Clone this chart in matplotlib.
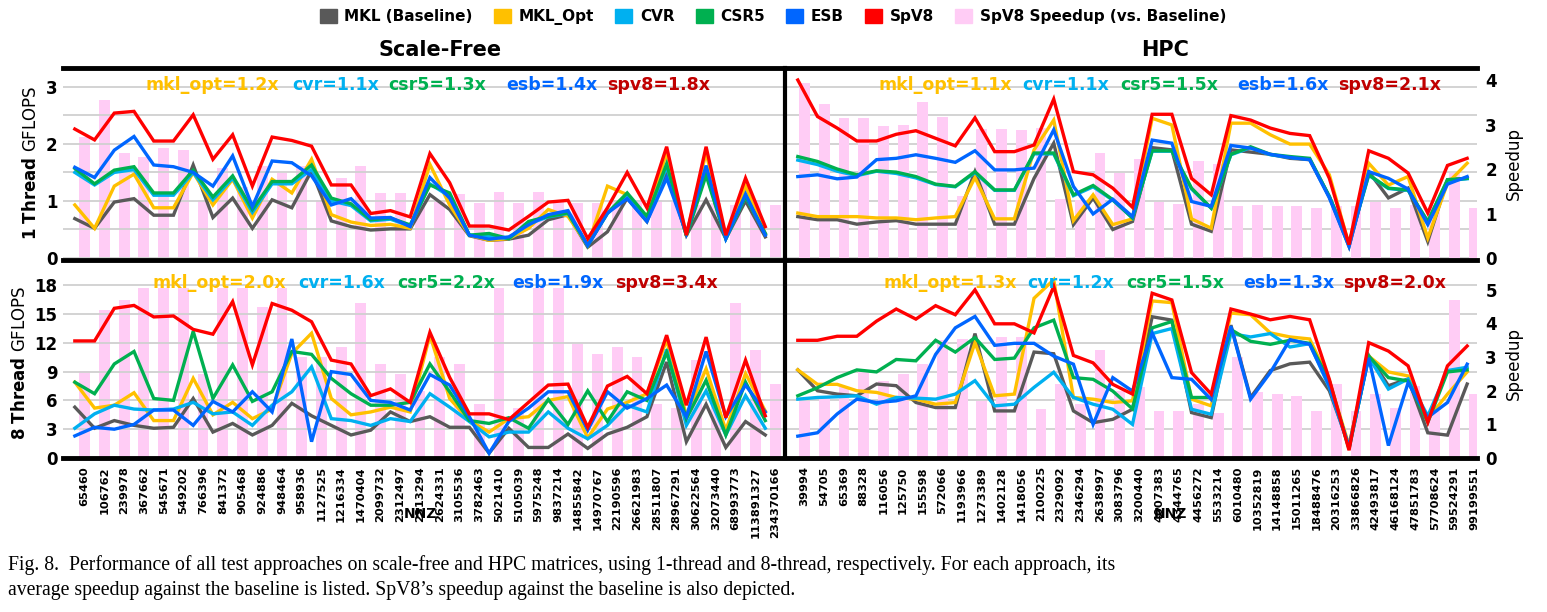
import numpy as np
import matplotlib
matplotlib.use('Agg')
import matplotlib.pyplot as plt
from matplotlib.patches import Patch

plt.rcParams['font.family'] = ['DejaVu Sans']

# ---- data ----
nnz_sf = ['65460', '106762', '239978', '367662', '545671', '549202', '766396', '841372', '905468',
          '924886', '948464', '958936', '1127525', '1216334', '1470404', '2099732', '2312497',
          '2313294', '2624331', '3105536', '3782463', '5021410', '5105039', '5975248', '9837214',
          '14855842', '14970767', '22190596', '26621983', '28511807', '28967291', '30622564',
          '32073440', '68993773', '113891327', '234370166']
nnz_hpc = ['39994', '54705', '65369', '88328', '116056', '125750', '155598', '572066', '1193966',
           '1273389', '1402128', '1418056', '2100225', '2329092', '2346294', '2638997', '3083796',
           '3200440', '4007383', '4344765', '4456272', '5533214', '6010480', '10352819', '14148858',
           '15011265', '18488476', '20316253', '33866826', '42493817', '46168124', '47851783',
           '57708624', '59524291', '99199551']

# scale-free, 1 thread (GFLOPS)
sf1_mkl = [0.69, 0.52, 0.98, 1.04, 0.75, 0.75, 1.63, 0.71, 1.05, 0.52, 1.02, 0.88, 1.53, 0.65, 0.55, 0.49, 0.51, 0.51,
           1.11, 0.85, 0.39, 0.31, 0.33, 0.40, 0.67, 0.76, 0.19, 0.46, 1.05, 0.64, 1.53, 0.40, 1.02, 0.34, 1.00, 0.37]
sf1_opt = [0.93, 0.52, 1.26, 1.47, 0.88, 0.88, 1.50, 0.93, 1.38, 0.70, 1.38, 1.14, 1.73, 0.76, 0.63, 0.57, 0.59, 0.52,
           1.64, 0.93, 0.40, 0.31, 0.34, 0.52, 0.85, 0.73, 0.22, 1.26, 1.11, 0.70, 1.85, 0.40, 1.85, 0.34, 1.26, 0.43]
sf1_cvr = [1.50, 1.28, 1.50, 1.55, 1.10, 1.10, 1.50, 1.02, 1.40, 0.80, 1.30, 1.30, 1.55, 1.00, 0.92, 0.65, 0.68, 0.56,
           1.30, 1.08, 0.40, 0.38, 0.34, 0.60, 0.72, 0.78, 0.22, 0.78, 1.10, 0.68, 1.60, 0.40, 1.50, 0.34, 1.08, 0.42]
sf1_csr5 = [1.57, 1.30, 1.54, 1.60, 1.14, 1.14, 1.54, 1.07, 1.44, 0.85, 1.34, 1.34, 1.63, 1.05, 0.95, 0.67, 0.70, 0.58,
            1.28, 1.14, 0.40, 0.43, 0.34, 0.64, 0.73, 0.79, 0.22, 0.79, 1.14, 0.73, 1.65, 0.39, 1.45, 0.34, 1.08, 0.43]
sf1_esb = [1.59, 1.41, 1.89, 2.13, 1.63, 1.60, 1.50, 1.26, 1.79, 0.90, 1.70, 1.67, 1.44, 0.93, 1.04, 0.70, 0.71, 0.55,
           1.41, 1.05, 0.40, 0.33, 0.37, 0.58, 0.76, 0.83, 0.22, 0.79, 1.04, 0.64, 1.40, 0.43, 1.62, 0.34, 1.12, 0.40]
sf1_spv8 = [2.26, 2.07, 2.54, 2.57, 2.05, 2.05, 2.51, 1.73, 2.16, 1.26, 2.12, 2.06, 1.96, 1.28, 1.28, 0.78, 0.83, 0.72,
            1.83, 1.32, 0.56, 0.56, 0.49, 0.73, 0.98, 1.01, 0.34, 0.88, 1.50, 0.88, 1.95, 0.40, 1.95, 0.40, 1.40, 0.55]
sf1_speedup = [2.73, 3.56, 2.36, 2.28, 2.47, 2.43, 1.30, 2.02, 1.60, 2.06, 1.91, 2.06, 1.30, 1.80, 2.06, 1.46, 1.46, 1.24,
               1.25, 1.44, 1.24, 1.49, 1.24, 1.49, 1.31, 1.24, 1.24, 1.30, 1.30, 1.30, 1.29, 1.20, 1.24, 1.20, 1.30, 1.20]

# HPC, 1 thread
hpc1_mkl = [0.93, 0.86, 0.86, 0.76, 0.81, 0.84, 0.76, 0.76, 0.76, 1.94, 0.76, 0.76, 1.79, 2.58, 0.75, 1.35, 0.64, 0.82,
            2.48, 2.43, 0.76, 0.60, 2.43, 2.38, 2.33, 2.24, 2.21, 1.38, 0.26, 1.94, 1.35, 1.57, 0.37, 1.76, 1.79]
hpc1_opt = [1.01, 0.93, 0.93, 0.93, 0.90, 0.90, 0.86, 0.90, 0.93, 1.81, 0.88, 0.88, 2.43, 3.10, 0.84, 1.42, 0.75, 0.88,
            3.14, 2.99, 0.88, 0.67, 3.03, 3.03, 2.77, 2.56, 2.56, 1.87, 0.30, 2.13, 1.64, 1.83, 0.45, 1.68, 2.13]
hpc1_cvr = [2.20, 2.10, 1.95, 1.85, 1.95, 1.90, 1.80, 1.65, 1.60, 1.92, 1.52, 1.52, 2.34, 2.34, 1.40, 1.60, 1.30, 0.90,
            2.40, 2.40, 1.55, 1.12, 2.32, 2.48, 2.32, 2.26, 2.22, 1.38, 0.32, 1.86, 1.56, 1.52, 0.82, 1.74, 1.78]
hpc1_csr5 = [2.28, 2.17, 2.00, 1.87, 1.96, 1.93, 1.83, 1.66, 1.61, 1.94, 1.53, 1.53, 2.36, 2.36, 1.42, 1.63, 1.31, 0.90,
             2.41, 2.41, 1.57, 1.12, 2.33, 2.50, 2.33, 2.28, 2.24, 1.38, 0.34, 1.87, 1.57, 1.53, 0.82, 1.76, 1.79]
hpc1_esb = [1.83, 1.87, 1.78, 1.82, 2.21, 2.24, 2.32, 2.24, 2.15, 2.41, 1.98, 1.98, 2.02, 2.88, 1.61, 0.99, 1.32, 0.93,
            2.65, 2.58, 1.27, 1.16, 2.53, 2.47, 2.33, 2.26, 2.21, 1.35, 0.26, 1.94, 1.79, 1.55, 0.75, 1.66, 1.83]
hpc1_spv8 = [4.00, 3.18, 2.92, 2.63, 2.63, 2.78, 2.86, 2.69, 2.52, 3.15, 2.39, 2.39, 2.54, 3.57, 1.94, 1.87, 1.57, 1.14,
             3.23, 3.23, 1.79, 1.42, 3.20, 3.10, 2.92, 2.80, 2.75, 1.79, 0.30, 2.41, 2.24, 1.91, 1.01, 2.08, 2.24]
hpc1_speedup = [3.93, 3.45, 3.14, 3.14, 2.97, 3.00, 3.51, 3.18, 1.40, 2.90, 2.90, 2.88, 2.93, 1.33, 1.31, 2.36, 1.90, 2.23,
                1.26, 1.21, 2.17, 2.12, 1.16, 1.20, 1.16, 1.16, 1.12, 1.16, 1.16, 1.26, 1.12, 1.20, 1.20, 1.90, 1.12]

# scale-free, 8 threads
sf8_mkl = [5.3, 3.1, 3.9, 3.4, 3.1, 3.2, 6.2, 2.7, 3.6, 2.4, 3.4, 5.7, 4.4, 3.4, 2.4, 2.9, 4.8, 3.8,
           4.3, 3.2, 3.2, 0.5, 3.1, 1.1, 1.1, 2.5, 1.0, 2.5, 3.2, 4.3, 10.0, 1.7, 5.6, 1.1, 3.8, 2.4]
sf8_opt = [7.9, 5.2, 5.5, 6.8, 3.9, 3.9, 8.3, 4.5, 5.8, 4.1, 5.1, 10.9, 13.0, 6.2, 4.5, 4.8, 5.3, 4.8,
           12.8, 6.2, 3.9, 2.7, 4.1, 4.3, 6.0, 6.4, 2.1, 5.1, 5.8, 6.7, 12.3, 4.4, 9.3, 2.9, 8.8, 4.9]
sf8_cvr = [3.1, 4.6, 5.5, 5.1, 5.0, 5.1, 5.8, 4.6, 4.8, 3.4, 5.5, 6.9, 9.5, 4.1, 3.9, 3.4, 4.1, 3.8,
           6.7, 5.3, 3.8, 2.2, 2.7, 2.7, 4.8, 3.1, 2.0, 3.4, 5.5, 4.8, 11.3, 3.4, 7.0, 2.4, 6.5, 3.1]
sf8_csr5 = [7.9, 6.7, 9.8, 11.1, 6.2, 6.0, 13.2, 6.2, 9.7, 5.9, 6.9, 11.1, 10.8, 8.3, 6.7, 5.5, 5.5, 5.8,
            9.8, 6.9, 3.9, 3.6, 4.2, 3.1, 6.1, 3.5, 7.0, 3.8, 6.9, 6.0, 11.0, 4.1, 8.1, 2.4, 7.9, 3.9]
sf8_esb = [2.3, 3.2, 3.0, 3.5, 5.0, 5.0, 3.4, 5.9, 4.8, 6.9, 4.8, 12.4, 1.7, 9.0, 8.7, 6.0, 5.8, 5.0,
           8.7, 7.6, 4.3, 0.5, 3.8, 5.2, 6.9, 6.9, 2.9, 6.9, 5.2, 6.2, 7.6, 4.3, 11.1, 4.3, 7.6, 4.8]
sf8_spv8 = [12.2, 12.2, 15.6, 15.9, 14.7, 14.8, 13.4, 12.9, 16.3, 9.7, 16.1, 15.4, 14.2, 10.2, 9.8, 6.5, 7.2, 5.8,
            13.1, 8.4, 4.6, 4.6, 4.0, 5.8, 7.6, 7.7, 3.2, 7.5, 8.5, 6.7, 12.8, 5.5, 12.6, 4.2, 10.2, 4.4]
sf8_speedup = [2.6, 4.4, 4.7, 5.05, 5.05, 5.05, 2.5, 5.05, 5.05, 4.5, 5.05, 3.0, 3.0, 3.3, 4.6, 2.8, 2.5, 2.0,
               3.0, 2.8, 1.6, 5.05, 1.5, 5.05, 5.05, 3.4, 3.1, 3.3, 3.0, 1.6, 1.5, 2.9, 1.7, 4.6, 3.2, 2.2]

# HPC, 8 threads
hpc8_mkl = [2.62, 2.0, 1.9, 1.85, 2.2, 2.15, 1.65, 1.5, 1.5, 3.7, 1.4, 1.4, 3.15, 3.1, 1.4, 1.05, 1.15, 1.45,
            4.2, 4.1, 1.35, 1.2, 3.95, 1.8, 2.6, 2.8, 2.85, 2.0, 0.37, 3.05, 2.15, 2.35, 0.75, 0.68, 2.2]
hpc8_opt = [2.62, 2.19, 2.19, 2.0, 1.95, 1.8, 1.75, 1.6, 1.65, 3.43, 1.85, 1.9, 4.75, 5.3, 1.8, 1.75, 1.65, 1.7,
            4.67, 4.62, 1.75, 1.55, 4.31, 4.26, 3.72, 3.6, 3.54, 2.3, 0.37, 3.03, 2.56, 2.44, 1.16, 1.9, 2.56]
hpc8_cvr = [1.75, 1.8, 1.82, 1.85, 1.6, 1.8, 1.78, 1.75, 1.9, 2.3, 1.55, 1.6, 2.1, 2.55, 1.8, 1.6, 1.45, 1.0,
            3.7, 3.85, 1.45, 1.3, 3.7, 3.6, 3.7, 3.3, 3.4, 2.1, 0.3, 3.0, 2.05, 2.35, 1.25, 2.6, 2.7]
hpc8_csr5 = [1.85, 2.09, 2.39, 2.62, 2.56, 2.93, 2.89, 3.5, 3.15, 3.58, 2.93, 2.97, 3.87, 4.1, 2.39, 2.34, 1.99, 1.46,
             3.87, 4.06, 1.8, 1.8, 3.82, 3.47, 3.38, 3.5, 3.41, 2.29, 0.27, 3.03, 2.39, 2.29, 1.06, 2.56, 2.62]
hpc8_esb = [0.65, 0.75, 1.31, 1.75, 1.65, 1.7, 1.85, 3.08, 3.87, 4.21, 3.35, 3.41, 3.41, 3.03, 2.79, 1.0, 2.39, 1.99,
            3.72, 2.39, 2.34, 1.74, 3.92, 1.75, 2.54, 3.52, 3.38, 2.15, 0.33, 2.98, 0.37, 2.24, 1.21, 1.65, 2.79]
hpc8_spv8 = [3.5, 3.5, 3.62, 3.62, 4.07, 4.43, 4.13, 4.53, 4.26, 5.0, 3.99, 3.99, 3.72, 5.1, 3.05, 2.83, 2.19, 1.9,
             4.9, 4.7, 2.54, 1.9, 4.43, 4.28, 4.11, 4.21, 4.11, 2.34, 0.23, 3.43, 3.18, 2.74, 1.06, 2.74, 3.33]
hpc8_speedup = [1.7, 1.8, 2.1, 2.55, 2.3, 2.5, 2.8, 3.5, 3.55, 1.7, 3.6, 3.6, 1.45, 2.2, 1.6, 3.2, 2.0, 2.1,
                1.4, 1.4, 1.6, 1.35, 3.0, 1.95, 1.9, 1.85, 1.4, 2.2, 1.4, 1.9, 1.5, 2.15, 1.4, 4.7, 1.9]

avg = {
    'sf1': ['1.2', '1.1', '1.3', '1.4', '1.8'],
    'hpc1': ['1.1', '1.1', '1.5', '1.6', '2.1'],
    'sf8': ['2.0', '1.6', '2.2', '1.9', '3.4'],
    'hpc8': ['1.3', '1.2', '1.5', '1.3', '2.0'],
}

names = ['MKL (Baseline)', 'MKL_Opt', 'CVR', 'CSR5', 'ESB', 'SpV8']
colors = ['#595959', '#FFC000', '#00B0F0', '#00B050', '#0066FF', '#FF0000']
pink = '#FFCCF5'
txtcol = ['#FFC000', '#00B0F0', '#00B050', '#0066FF', '#C00000']
txtname = ['mkl_opt', 'cvr', 'csr5', 'esb', 'spv8']

W, H = 1547, 612
fig = plt.figure(figsize=(W / 100, H / 100), dpi=100)


def rect(x0, y0, x1, y1):
    return [x0 / W, 1 - y1 / H, (x1 - x0) / W, (y1 - y0) / H]


def panel(r, series, speed, labels, gmax, smax, on_left):
    if on_left:
        ax = fig.add_axes(rect(63, r[0], 785, r[1]))
        xl = (-1.1, 35.5)
    else:
        ax = fig.add_axes(rect(785, r[0], 1477, r[1]))
        xl = (-1.0, 34.15)
    tw = ax.twinx()
    x = np.arange(len(labels))
    tw.bar(x, speed, width=0.55, color=pink, zorder=1)
    tw.set_ylim(0, smax)
    if on_left:
        ax.set_zorder(tw.get_zorder() + 1)
        ax.patch.set_visible(False)
        for s, c in zip(series, colors):
            ax.plot(x - 0.5, s, color=c, lw=2.4, solid_joinstyle='miter')
        tw.set_yticks([])
    else:
        for s, c in zip(series, colors):
            tw.plot(x - 0.35, s, color=c, lw=2.4, solid_joinstyle='miter', zorder=3)
        tw.set_yticks(range(int(smax) + 1))
        for t in tw.get_yticklabels():
            t.set_fontweight('bold')
            t.set_fontsize(12)
        tw.tick_params(axis='y', length=0, pad=6)
        tw.set_ylabel('Speedup', fontsize=12, labelpad=6)
    ax.set_ylim(0, gmax)
    ax.set_xlim(*xl)
    ax.grid(axis='y', which='both', color='#D0D0D0', lw=1.3)
    ax.set_axisbelow(True)
    ax.tick_params(axis='y', which='both', length=0, labelsize=12, pad=4)
    ax.set_xticks(x)
    ax.tick_params(axis='x', length=0)
    ax.set_xticklabels([])
    for a in (ax, tw):
        for s in ('left', 'right', 'top', 'bottom'):
            a.spines[s].set_visible(False)
    return ax


top = (68, 258)
bot = (268, 458)
sf1 = [sf1_mkl, sf1_opt, sf1_cvr, sf1_csr5, sf1_esb, sf1_spv8]
hpc1 = [hpc1_mkl, hpc1_opt, hpc1_cvr, hpc1_csr5, hpc1_esb, hpc1_spv8]
sf8 = [sf8_mkl, sf8_opt, sf8_cvr, sf8_csr5, sf8_esb, sf8_spv8]
hpc8 = [hpc8_mkl, hpc8_opt, hpc8_cvr, hpc8_csr5, hpc8_esb, hpc8_spv8]

a1 = panel(top, sf1, sf1_speedup, nnz_sf, 3.33, 4.27, True)
a2 = panel(top, hpc1, hpc1_speedup, nnz_hpc, 3.33, 4.27, False)
a3 = panel(bot, sf8, sf8_speedup, nnz_sf, 19.8, 5.65, True)
a4 = panel(bot, hpc8, hpc8_speedup, nnz_hpc, 19.8, 5.65, False)

for a in (a1, a2):
    a.set_yticks([0, 1, 2, 3])
    a.set_yticks([0.5, 1.5, 2.5], minor=True)
for a in (a3, a4):
    a.set_yticks([0, 3, 6, 9, 12, 15, 18])
for a in (a1, a3):
    for t in a.get_yticklabels():
        t.set_fontweight('bold')
for a in (a2, a4):
    a.set_yticklabels([])
a1.set_ylabel(r'$\bf{1\ Thread}$ GFLOPS', fontsize=12)
a3.set_ylabel(r'$\bf{8\ Thread}$ GFLOPS', fontsize=12)

for a, labs in ((a3, nnz_sf), (a4, nnz_hpc)):
    a.set_xticklabels(labs, rotation=90, fontsize=8.2, fontweight='bold')
    a.tick_params(axis='x', pad=6)
fig.text(420 / W, 1 - 514 / H, 'NNZ', fontsize=10, fontweight='bold', ha='center', va='center')
fig.text(1170 / W, 1 - 514 / H, 'NNZ', fontsize=10, fontweight='bold', ha='center', va='center')

# thick frame lines
for y in (68, 260, 458):
    fig.add_artist(plt.Line2D([63 / W, 1477 / W], [1 - y / H, 1 - y / H], color='black', lw=3.5))
fig.add_artist(plt.Line2D([785 / W, 785 / W], [1 - 68 / H, 1 - 458 / H], color='black', lw=3))

# average speedup annotations
pos = {
    'sf1': ([212, 336, 437, 552, 659], 85),
    'hpc1': ([945, 1066, 1169, 1283, 1390], 85),
    'sf8': ([219, 342, 446, 558, 667], 283),
    'hpc8': ([950, 1071, 1175, 1289, 1395], 283),
}
for key, (xs, y) in pos.items():
    for xx, nm, v, c in zip(xs, txtname, avg[key], txtcol):
        fig.text(xx / W, 1 - y / H, f'{nm}={v}x', color=c, fontsize=12.5, fontweight='bold',
                 ha='center', va='center')

fig.text(440 / W, 1 - 50 / H, 'Scale-Free', fontsize=15, fontweight='bold', ha='center', va='center')
fig.text(1165 / W, 1 - 50 / H, 'HPC', fontsize=15, fontweight='bold', ha='center', va='center')

handles = [Patch(color=c) for c in colors] + [Patch(color=pink)]
fig.legend(handles, names + ['SpV8 Speedup (vs. Baseline)'], loc='center', bbox_to_anchor=(773 / W, 1 - 17 / H),
           ncol=7, frameon=False, prop={'weight': 'bold', 'size': 11}, handlelength=1.1, handleheight=1.1,
           columnspacing=1.4, handletextpad=0.5)

cap1 = ("Fig. 8.  Performance of all test approaches on scale-free and HPC matrices, using 1-thread and 8-thread, "
        "respectively. For each approach, its")
cap2 = "average speedup against the baseline is listed. SpV8\u2019s speedup against the baseline is also depicted."
fig.text(8 / W, 1 - 565 / H, cap1, fontsize=14.2, family='Liberation Serif', ha='left', va='center')
fig.text(8 / W, 1 - 591 / H, cap2, fontsize=14.2, family='Liberation Serif', ha='left', va='center')

fig.savefig('out.png', dpi=100)
